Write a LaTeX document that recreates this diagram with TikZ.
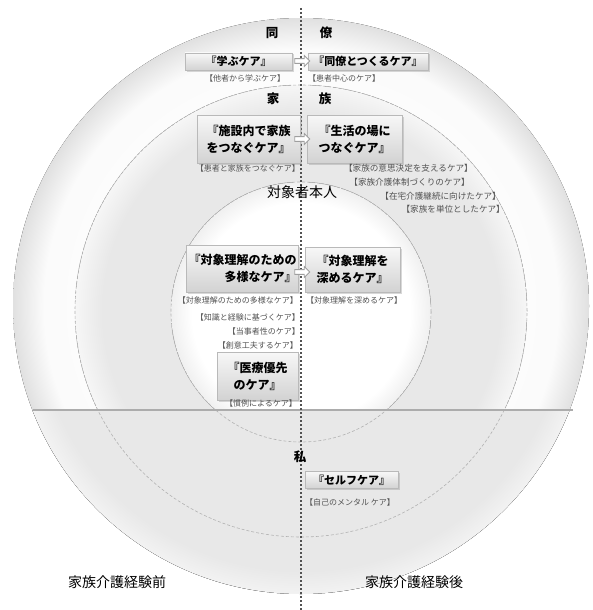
\documentclass[tikz,border=0pt]{standalone}
\usepackage{fontspec}
\setmainfont{Noto Sans CJK JP}
\usetikzlibrary{shapes.arrows,shadows}
\pgfdeclareradialshading{outerring}{\pgfpoint{0bp}{0bp}}{color(0bp)=(white); color(22.3bp)=(gray!3); color(25bp)=(gray!24); color(50bp)=(gray!24)}
\pgfdeclareradialshading{midring}{\pgfpoint{0bp}{0bp}}{color(0bp)=(gray!18); color(22bp)=(gray!18); color(25bp)=(gray!7); color(50bp)=(gray!7)}
\pgfdeclareradialshading{innerdisk}{\pgfpoint{0bp}{0bp}}{color(0bp)=(white); color(21bp)=(white); color(25bp)=(gray!12); color(50bp)=(gray!12)}
\pgfdeclareradialshading{lowseg}{\pgfpoint{0bp}{0bp}}{color(0bp)=(gray!18); color(23bp)=(gray!18); color(25bp)=(gray!10); color(50bp)=(gray!10)}
\begin{document}
\begin{tikzpicture}[x=1pt,y=-1pt,
  cbox/.style={draw=gray!55, top color=gray!6, bottom color=gray!35, font=\bfseries\fontsize{11}{17}\selectfont, inner sep=2pt, minimum height=17pt, drop shadow={opacity=0.3, shadow xshift=1.5pt, shadow yshift=-1.5pt}},
  cbig/.style={cbox, font=\bfseries\fontsize{12}{17}\selectfont, minimum height=47pt},
  lbl/.style={font=\fontsize{8}{9}\selectfont, text=black!68, inner sep=0pt},
  lblr/.style={font=\fontsize{8.6}{9}\selectfont, text=black!68, inner sep=0pt, anchor=east},
  head/.style={font=\bfseries\fontsize{12.5}{13}\selectfont, inner sep=0pt},
  harrow/.style={single arrow, draw=gray!75, line width=0.8pt, fill=white, minimum height=15pt, minimum width=11pt, single arrow head extend=2.5pt, inner sep=1.5pt},
  dcirc/.style={draw=gray!60, dash pattern=on 3pt off 2pt, line width=0.6pt}
]
\useasboundingbox (0,0) rectangle (592,610);
\fill[white] (0,0) rectangle (592,610);
% discs
\fill[shading=outerring] (301,306) circle[radius=288pt];
\fill[shading=midring] (301,311) circle[radius=226pt];
\fill[shading=innerdisk] (301,312) circle[radius=130pt];
\begin{scope}
  \clip (0,410) rectangle (592,610);
  \fill[shading=lowseg] (301,306) circle[radius=288pt];
\end{scope}
\draw[dcirc] (301,311) circle[radius=226pt];
\draw[dcirc] (301,312) circle[radius=130pt];
% horizontal divider
\coordinate (hl) at (33,410);
\coordinate (hr) at (573,410);
\draw[gray!65, line width=1.6pt] (hl) -- (hr);
% vertical dotted divider
\coordinate (vt) at (301,8);
\coordinate (vb) at (301,610);
\draw[black!68, line width=2.6pt, dash pattern=on 2.4pt off 1.6pt] (vt) -- (vb);

% headings
\node[head] (dou) at (272,33) {同};
\node[head] (ryo) at (326,33) {僚};
\node[head] (ka) at (273,99) {家};
\node[head] (zoku) at (325,99) {族};
\node[font=\fontsize{14}{14}\selectfont, inner sep=0pt] (honnin) at (302,192) {対象者本人};
\node[font=\bfseries\fontsize{12.5}{13}\selectfont, inner sep=0pt] (watashi) at (300,457) {私};
\node[font=\fontsize{14}{14}\selectfont, inner sep=0pt] (mae) at (117,582) {家族介護経験前};
\node[font=\fontsize{14}{14}\selectfont, inner sep=0pt] (ato) at (414,582) {家族介護経験後};

% colleague row
\node[cbox, minimum width=107pt] (manabu) at (238.5,61.5) {『学ぶケア』};
\node[cbox, minimum width=120pt] (tsukuru) at (368,61.5) {『同僚とつくるケア』};
\node[harrow] (a1) at (301,61) {};
\node[lbl] (l1) at (245,78) {【他者から学ぶケア】};
\node[lbl] (l2) at (344,78) {【患者中心のケア】};

% family row
\node[cbig, minimum width=103pt, minimum height=48pt, align=center] (shisetsu) at (248.5,139) {『施設内で家族\\をつなぐケア』};
\node[cbig, minimum width=95pt, minimum height=48pt, align=center] (seikatsu) at (354.5,139) {『生活の場に\\つなぐケア』};
\node[harrow] (a2) at (301,139) {};
\node[lbl, anchor=east] (l3) at (300,168) {【患者と家族をつなぐケア】};
\node[lblr] (l4) at (473,168) {【家族の意思決定を支えるケア】};
\node[lblr] (l5) at (470,182) {【家族介護体制づくりのケア】};
\node[lblr] (l6) at (501,196) {【在宅介護継続に向けたケア】};
\node[lblr] (l7) at (505,209) {【家族を単位としたケア】};

% person row
\node[lbl, anchor=east] (l8) at (298,300) {【対象理解のための多様なケア】};
\node[cbig, minimum width=111pt, minimum height=47pt, align=right] (tayou) at (242.5,268.5) {『対象理解のための\\多様なケア』};
\node[cbig, minimum width=95pt, minimum height=45pt, align=center] (fukameru) at (352.5,269.5) {『対象理解を\\深めるケア』};
\node[harrow] (a3) at (301,272) {};
\node[lbl, anchor=west] (l9) at (306,300) {【対象理解を深めるケア】};
\node[lbl, anchor=east] (l10) at (300,317) {【知識と経験に基づくケア】};
\node[lbl, anchor=east] (l11) at (300,331) {【当事者性のケア】};
\node[lbl, anchor=east] (l12) at (298,345) {【創意工夫するケア】};
\node[cbig, minimum width=81pt, minimum height=48pt, align=center] (iryou) at (257.5,376) {『医療優先\\のケア』};
\node[lbl, anchor=east] (l13) at (297,403) {【慣例によるケア】};

% self
\node[cbox, minimum width=93pt] (self) at (351.5,480) {『セルフケア』};
\node[lbl, anchor=west] (l14) at (305,502) {【自己のメンタル ケア】};
\end{tikzpicture}
\end{document}
